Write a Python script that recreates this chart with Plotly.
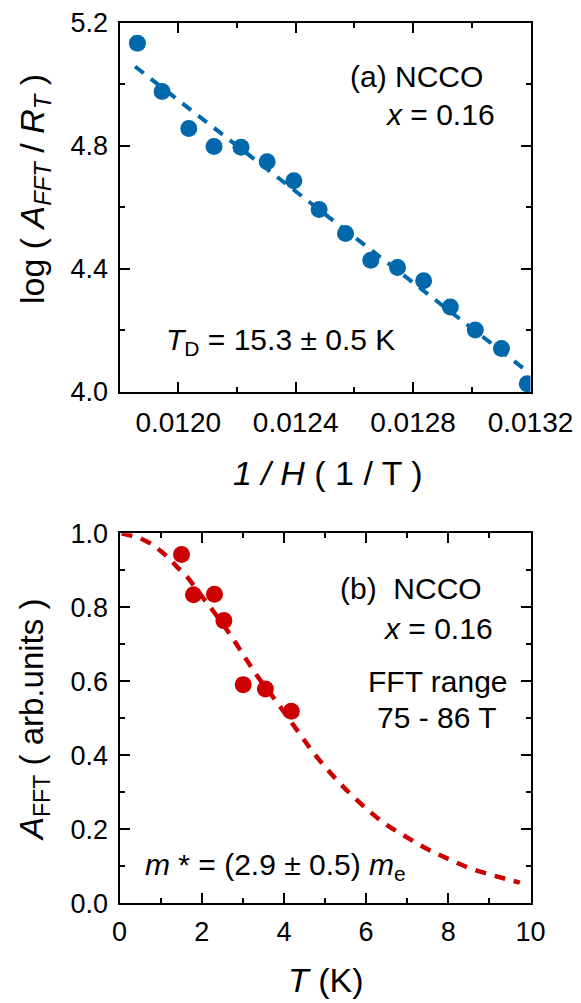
import plotly.graph_objects as go

# -------------------------------
# DATA
# -------------------------------
# (a) Dingle plot
inv_h = [0.011861, 0.011945, 0.012036, 0.012122, 0.012214, 0.012303, 0.012394, 0.012480,
         0.012570, 0.012656, 0.012747, 0.012836, 0.012927, 0.013012, 0.013101, 0.013189]
log_a = [5.133, 4.976, 4.856, 4.797, 4.795, 4.748, 4.686, 4.593,
         4.515, 4.428, 4.404, 4.361, 4.276, 4.201, 4.141, 4.027]
fit_a_x = [0.011853, 0.013185]
fit_a_y = [5.057, 4.070]

# (b) temperature dependence of the FFT amplitude
temp = [1.51, 1.80, 2.31, 2.54, 3.01, 3.55, 4.18]
amp = [0.943, 0.834, 0.835, 0.764, 0.591, 0.579, 0.519]
fit_b_x = [0.05, 0.30, 0.55, 0.82, 1.00, 1.23, 1.41, 1.63, 1.80, 2.00, 2.28, 2.73, 3.05,
           3.38, 3.82, 4.32, 4.77, 5.40, 6.12, 6.50, 7.00, 7.50, 8.00, 8.50, 9.00, 9.40, 9.74]
fit_b_y = [1.000, 0.993, 0.984, 0.968, 0.952, 0.930, 0.908, 0.884, 0.860, 0.830, 0.790, 0.720, 0.665,
           0.610, 0.545, 0.468, 0.400, 0.320, 0.245, 0.212, 0.178, 0.146, 0.120, 0.096, 0.078, 0.066, 0.056]

BLUE = "#0068ab"
RED = "#cc0000"
FONT = "Liberation Sans, Arial, sans-serif"

# page body has an 8px margin, so the figure is drawn 8px in from the top-left
OFF = 8
W, H = 581 - OFF, 1003 - OFF


def px(x):
    return (x - OFF) / W


def py(y):
    return 1 - (y - OFF) / H


fig = go.Figure()

fig.add_trace(go.Scatter(x=fit_a_x, y=fit_a_y, mode="lines", xaxis="x", yaxis="y",
                         line=dict(color=BLUE, width=4, dash="11px,9px")))
fig.add_trace(go.Scatter(x=inv_h, y=log_a, mode="markers", xaxis="x", yaxis="y",
                         marker=dict(size=17, color=BLUE)))

fig.add_trace(go.Scatter(x=fit_b_x, y=fit_b_y, mode="lines", xaxis="x2", yaxis="y2",
                         line=dict(color=RED, width=4.5, dash="11px,9px", shape="spline")))
fig.add_trace(go.Scatter(x=temp, y=amp, mode="markers", xaxis="x2", yaxis="y2",
                         marker=dict(size=17, color=RED)))

minor_common = dict(ticks="inside", ticklen=5, tickwidth=2, tickcolor="black", showgrid=False)
axis_common = dict(showline=True, linecolor="black", linewidth=2, mirror="ticks",
                   ticks="inside", ticklen=10, tickwidth=2, tickcolor="black",
                   showgrid=False, zeroline=False, automargin=False,
                   ticklabeloverflow="allow",
                   tickfont=dict(family=FONT, size=27, color="black"))

xdom = [px(119.5), px(530.5)]

fig.update_layout(
    width=W, height=H,
    margin=dict(l=0, r=0, t=0, b=0, pad=0, autoexpand=False),
    paper_bgcolor="white", plot_bgcolor="white",
    showlegend=False,
    font=dict(family=FONT, color="black"),
    xaxis=dict(axis_common, domain=xdom, anchor="y", range=[0.0118, 0.0132],
               tickvals=[0.0120, 0.0124, 0.0128, 0.0132],
               ticktext=["0.0120", "0.0124", "0.0128", "0.0132"],
               tickfont=dict(family=FONT, size=28, color="black"),
               ticklabelstandoff=4,
               minor=dict(minor_common, tickvals=[0.0118, 0.0122, 0.0126, 0.0130])),
    yaxis=dict(axis_common, domain=[py(392), py(22.5)], anchor="x",
               range=[4.0, 5.2], tickvals=[4.0, 4.4, 4.8, 5.2], tickformat=".1f",
               ticklabelstandoff=4,
               minor=dict(minor_common, tickvals=[4.2, 4.6, 5.0])),
    xaxis2=dict(axis_common, domain=xdom, anchor="y2", range=[0, 10],
                tickvals=[0, 2, 4, 6, 8, 10], ticklabelstandoff=3,
                minor=dict(minor_common, tickvals=[1, 3, 5, 7, 9])),
    yaxis2=dict(axis_common, domain=[py(903.3), py(533.3)], anchor="x2",
                range=[0, 1.0], tickvals=[0, 0.2, 0.4, 0.6, 0.8, 1.0], tickformat=".1f",
                ticklabelstandoff=4,
                minor=dict(minor_common, tickvals=[0.1, 0.3, 0.5, 0.7, 0.9])),
)

ann = [
    # panel (a)
    dict(x=0.013045, y=5.026, xref="x", yref="y", xanchor="right", yanchor="middle",
         text="(a) NCCO", font=dict(size=30)),
    dict(x=0.013085, y=4.900, xref="x", yref="y", xanchor="right", yanchor="middle",
         text="<i>x</i> = 0.16", font=dict(size=30)),
    dict(x=0.01195, y=4.165, xref="x", yref="y", xanchor="left", yanchor="middle",
         text="<i>T</i><sub>D</sub> = 15.3 ± 0.5 K", font=dict(size=30)),
    # panel (b)
    dict(x=8.86, y=0.851, xref="x2", yref="y2", xanchor="right", yanchor="middle",
         text="(b)  NCCO", font=dict(size=30)),
    dict(x=9.13, y=0.743, xref="x2", yref="y2", xanchor="right", yanchor="middle",
         text="<i>x</i> = 0.16", font=dict(size=30)),
    dict(x=7.74, y=0.599, xref="x2", yref="y2", xanchor="center", yanchor="middle",
         text="FFT range", font=dict(size=30)),
    dict(x=7.73, y=0.503, xref="x2", yref="y2", xanchor="center", yanchor="middle",
         text="75 - 86 T", font=dict(size=30)),
    dict(x=0.56, y=0.099, xref="x2", yref="y2", xanchor="left", yanchor="middle",
         text="<i>m</i> * = (2.9 ± 0.5) <i>m</i><sub>e</sub>", font=dict(size=30)),
    # axis titles
    dict(x=px(328), y=py(473), xref="paper", yref="paper", xanchor="center",
         yanchor="middle", text="<i>1 / H</i> ( 1 / T )", font=dict(size=34)),
    dict(x=px(34), y=py(189), xref="paper", yref="paper", xanchor="center",
         yanchor="middle", textangle=-90,
         text="log ( <i>A</i><sub><i>FFT</i></sub> / <i>R</i><sub><i>T</i></sub> )",
         font=dict(size=34)),
    dict(x=px(326), y=py(980), xref="paper", yref="paper", xanchor="center",
         yanchor="middle", text="<i>T</i> (K)", font=dict(size=34)),
    dict(x=px(34), y=py(720), xref="paper", yref="paper", xanchor="center",
         yanchor="middle", textangle=-90,
         text="<i>A</i><sub>FFT</sub> ( arb.units )", font=dict(size=33)),
]
fig.update_layout(annotations=[dict(a, showarrow=False) for a in ann])

fig.write_html("out.html")
